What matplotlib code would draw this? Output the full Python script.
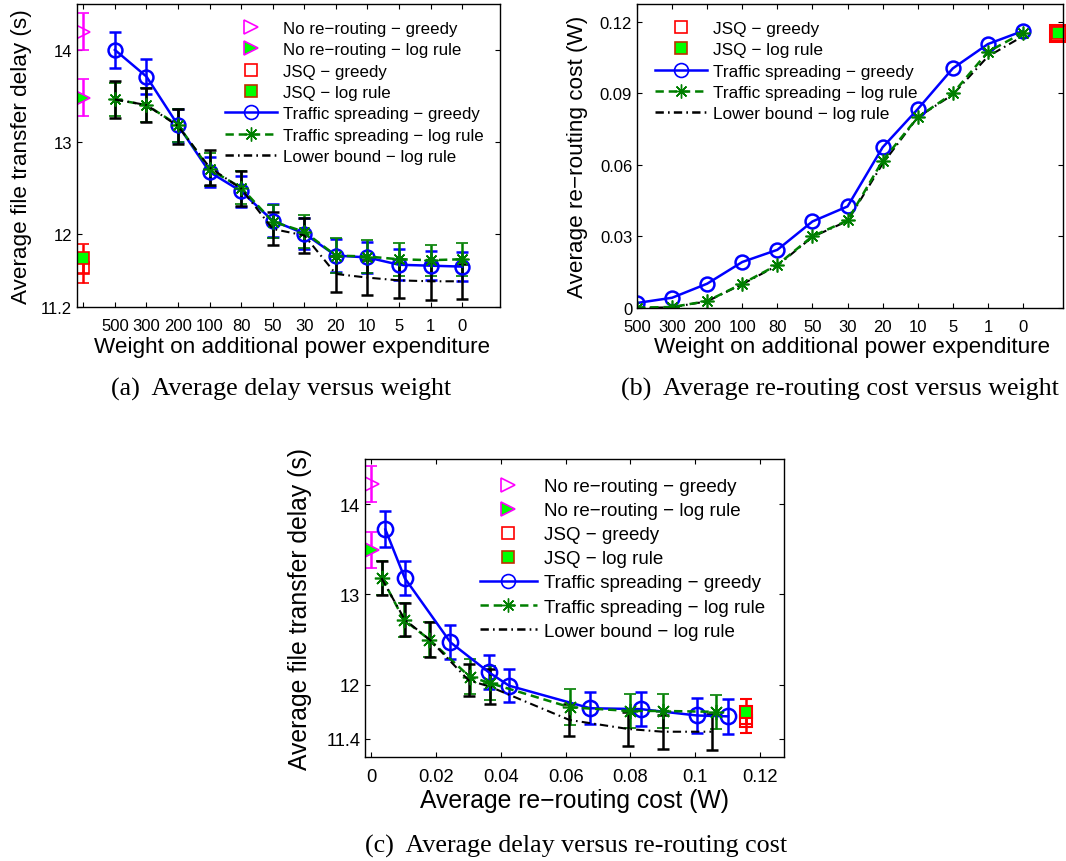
import numpy as np
import matplotlib
matplotlib.use('Agg')
import matplotlib.pyplot as plt
from matplotlib.lines import Line2D

plt.rcParams['font.family'] = ['Liberation Sans', 'DejaVu Sans']
plt.rcParams['lines.scale_dashes'] = False

W, H = 1066, 862

# ---- data ----
weights = ['500', '300', '200', '100', '80', '50', '30', '20', '10', '5', '1', '0']

# (a) delay vs weight
delay_ts_greedy = [14.0, 13.71, 13.18, 12.67, 12.46, 12.14, 12.0, 11.76, 11.74, 11.66, 11.65, 11.64]
err_ts_greedy = [0.2, 0.19, 0.18, 0.16, 0.17, 0.18, 0.17, 0.18, 0.17, 0.17, 0.16, 0.16]
delay_ts_log = [13.46, 13.40, 13.18, 12.70, 12.50, 12.13, 12.02, 11.76, 11.75, 11.72, 11.71, 11.72]
err_ts_log = [0.18, 0.18, 0.18, 0.18, 0.18, 0.18, 0.18, 0.19, 0.18, 0.18, 0.17, 0.18]
delay_lb_log = [13.46, 13.40, 13.17, 12.72, 12.49, 12.05, 11.98, 11.56, 11.52, 11.49, 11.48, 11.48]
err_lb_log = [0.2, 0.19, 0.19, 0.19, 0.19, 0.18, 0.19, 0.2, 0.19, 0.19, 0.2, 0.19]
delay_noreroute = {'greedy': (14.2, 0.2), 'log': (13.48, 0.2)}
delay_jsq = {'greedy': (11.62, 0.16), 'log': (11.73, 0.16)}

# (b) re-routing cost vs weight
cost_ts_greedy = [0.0021, 0.0043, 0.0102, 0.0193, 0.0244, 0.0363, 0.0426, 0.0674, 0.0834, 0.1005, 0.1107, 0.1162]
cost_ts_log = [0.0002, 0.0004, 0.0029, 0.0102, 0.0181, 0.0301, 0.0367, 0.0618, 0.0800, 0.0900, 0.1074, 0.1155]
cost_lb_log = [0.0, 0.0003, 0.0028, 0.0100, 0.0178, 0.0298, 0.0365, 0.0605, 0.0800, 0.0895, 0.1055, 0.1140]
cost_jsq = 0.1154

# (c) delay vs re-routing cost
c_greedy_cost = [0.0043, 0.0103, 0.0244, 0.0362, 0.0425, 0.0676, 0.0833, 0.1005, 0.1102]
c_greedy_delay = [13.72, 13.18, 12.47, 12.14, 11.99, 11.74, 11.73, 11.66, 11.65]
c_greedy_err = [0.2, 0.19, 0.19, 0.19, 0.18, 0.18, 0.19, 0.19, 0.19]
c_log_cost = [0.0033, 0.0100, 0.0179, 0.0303, 0.0365, 0.0614, 0.0799, 0.0900, 0.1066]
c_log_delay = [13.18, 12.72, 12.50, 12.09, 12.02, 11.75, 11.71, 11.71, 11.70]
c_log_err = [0.19, 0.19, 0.19, 0.19, 0.19, 0.2, 0.19, 0.19, 0.19]
c_lb_cost = [0.0031, 0.0103, 0.0180, 0.0300, 0.0365, 0.0612, 0.0794, 0.0900, 0.1051]
c_lb_delay = [13.18, 12.72, 12.50, 12.05, 11.98, 11.61, 11.51, 11.48, 11.48]
c_lb_err = [0.19, 0.18, 0.19, 0.18, 0.19, 0.18, 0.19, 0.19, 0.2]
c_noreroute = {'greedy': (14.22, 0.2), 'log': (13.49, 0.2)}
c_jsq_cost = 0.1157
c_jsq = {'greedy': (11.60, 0.13), 'log': (11.70, 0.14)}

BLUE = '#0000ff'
GREEN = '#007f00'
LGREEN = '#00ff00'
MAG = '#ff00ff'
RED = '#ff0000'
DASH = (0, (6, 3.5))
DASHDOT = (0, (6, 3, 1.2, 3))

fig = plt.figure(figsize=(W / 100, H / 100), dpi=100)


def px_axes(l, t, r, b):
    return fig.add_axes([l / W, 1 - b / H, (r - l) / W, (b - t) / H])


def eb(ax, x, y, e, color, **kw):
    return ax.errorbar(x, y, yerr=e, color=color, ecolor=color, elinewidth=1.8,
                       capsize=4, capthick=1.8, **kw)


def style(ax, fs):
    ax.tick_params(which='both', direction='in', top=True, right=True,
                   length=3.6, width=0.8, labelsize=fs)
    ax.tick_params(axis='x', pad=8)
    ax.tick_params(axis='y', pad=3.5)
    for s in ax.spines.values():
        s.set_linewidth(1.0)


def legend_handles(with_noreroute=True):
    h = []
    if with_noreroute:
        h.append(Line2D([], [], ls='none', marker='>', ms=10, mfc='none', mec=MAG, mew=1.2,
                        label='No re\u2212routing \u2212 greedy'))
        h.append(Line2D([], [], ls='none', marker='>', ms=10, mfc=LGREEN, mec=MAG, mew=1.2,
                        label='No re\u2212routing \u2212 log rule'))
    h.append(Line2D([], [], ls='none', marker='s', ms=8, mfc='none', mec=RED, mew=1.2,
                    label='JSQ \u2212 greedy'))
    h.append(Line2D([], [], ls='none', marker='s', ms=8, mfc=LGREEN, mec='#c03000', mew=1.2,
                    label='JSQ \u2212 log rule'))
    h.append(Line2D([], [], color=BLUE, lw=1.8, marker='o', ms=10, mfc='none', mew=1.2,
                    label='Traffic spreading \u2212 greedy'))
    h.append(Line2D([], [], color=GREEN, lw=1.8, ls=DASH, marker=(8, 2, 0), ms=10, mew=1.0,
                    label='Traffic spreading \u2212 log rule'))
    h.append(Line2D([], [], color='black', lw=1.8, ls=DASHDOT,
                    label='Lower bound \u2212 log rule'))
    return h


# ---------------- (a) ----------------
ax = px_axes(77, 5, 500, 308)
idx = np.arange(1, len(weights) + 1)
eb(ax, 0, delay_noreroute['greedy'][0], delay_noreroute['greedy'][1], MAG,
   ls='none', marker='>', ms=10, mfc='none', mec=MAG, mew=1.2)
eb(ax, 0, delay_noreroute['log'][0], delay_noreroute['log'][1], MAG,
   ls='none', marker='>', ms=10, mfc=LGREEN, mec=MAG, mew=1.2)
eb(ax, 0, delay_jsq['greedy'][0], delay_jsq['greedy'][1], RED,
   ls='none', marker='s', ms=8, mfc='none', mec=RED, mew=1.2)
eb(ax, 0, delay_jsq['log'][0], delay_jsq['log'][1], RED,
   ls='none', marker='s', ms=8, mfc=LGREEN, mec=RED, mew=1.2)
eb(ax, idx, delay_ts_greedy, err_ts_greedy, BLUE, lw=1.8, marker='o', ms=10,
   mfc='none', mew=1.8)
eb(ax, idx, delay_ts_log, err_ts_log, GREEN, lw=1.8, ls=DASH, marker=(8, 2, 0),
   ms=10, mew=1.2)
eb(ax, idx, delay_lb_log, err_lb_log, 'black', lw=1.5, ls=DASHDOT)
ax.set_xlim(-0.2, 13.2)
ax.set_ylim(11.2, 14.5)
ax.set_xticks(np.arange(0, 13))
ax.set_xticklabels([''] + weights)
ax.set_yticks([11.2, 12, 13, 14])
ax.set_yticklabels(['11.2', '12', '13', '14'])
style(ax, 12)
ax.set_xlabel('Weight on additional power expenditure', fontsize=16.2, va='center')
ax.xaxis.set_label_coords(0.508, -0.132)
ax.set_ylabel('Average file transfer delay (s)', fontsize=16.2, va='center')
ax.yaxis.set_label_coords(-0.132, 0.5)
ax.legend(handles=legend_handles(True), loc='upper left', bbox_to_anchor=(0.35, 0.945),
          frameon=False, fontsize=12.2, handlelength=3.05, handletextpad=0.36,
          labelspacing=0.38, borderpad=0, borderaxespad=0, numpoints=1)

# ---------------- (b) ----------------
ax = px_axes(637, 5, 1063, 309)
eb(ax, idx, cost_ts_greedy, None, BLUE, lw=1.8, marker='o', ms=10, mfc='none', mew=1.8)
eb(ax, idx, cost_ts_log, None, GREEN, lw=1.8, ls=DASH, marker=(8, 2, 0), ms=10, mew=1.2)
ax.plot(idx, cost_lb_log, color='black', lw=1.5, ls=DASHDOT)
ax.plot([len(weights) + 1], [cost_jsq], ls='none', marker='s', ms=11, mfc='none',
        mec=RED, mew=2.2, clip_on=False)
ax.plot([len(weights) + 1], [cost_jsq], ls='none', marker='s', ms=9, mfc=LGREEN,
        mec=RED, mew=1.2, clip_on=False)
ax.set_xlim(1, 13.14)
ax.set_ylim(0, 0.1275)
ax.set_xticks(idx)
ax.set_xticklabels(weights)
ax.set_yticks([0, 0.03, 0.06, 0.09, 0.12])
ax.set_yticklabels(['0', '0.03', '0.06', '0.09', '0.12'])
style(ax, 12)
ax.set_xlabel('Weight on additional power expenditure', fontsize=16.2, va='center')
ax.xaxis.set_label_coords(0.505, -0.128)
ax.set_ylabel('Average re\u2212routing cost (W)', fontsize=16.2, va='center')
ax.yaxis.set_label_coords(-0.1385, 0.5)
ax.legend(handles=legend_handles(False), loc='upper left', bbox_to_anchor=(0.042, 0.945),
          frameon=False, fontsize=12.4, handlelength=3.0, handletextpad=0.36,
          labelspacing=0.37, borderpad=0, borderaxespad=0, numpoints=1)

# ---------------- (c) ----------------
ax = px_axes(365, 460, 784, 758)
eb(ax, 0, c_noreroute['greedy'][0], c_noreroute['greedy'][1], MAG,
   ls='none', marker='>', ms=11, mfc='none', mec=MAG, mew=1.2)
eb(ax, 0, c_noreroute['log'][0], c_noreroute['log'][1], MAG,
   ls='none', marker='>', ms=11, mfc=LGREEN, mec=MAG, mew=1.2)
eb(ax, c_jsq_cost, c_jsq['greedy'][0], c_jsq['greedy'][1], RED,
   ls='none', marker='s', ms=9, mfc='none', mec=RED, mew=1.5)
eb(ax, c_jsq_cost, c_jsq['log'][0], c_jsq['log'][1], RED,
   ls='none', marker='s', ms=9, mfc=LGREEN, mec=RED, mew=1.5)
eb(ax, c_greedy_cost, c_greedy_delay, c_greedy_err, BLUE, lw=1.8, marker='o', ms=11,
   mfc='none', mew=1.8)
eb(ax, c_log_cost, c_log_delay, c_log_err, GREEN, lw=1.8, ls=DASH, marker=(8, 2, 0),
   ms=11, mew=1.2)
eb(ax, c_lb_cost, c_lb_delay, c_lb_err, 'black', lw=1.5, ls=DASHDOT)
ax.set_xlim(-0.002, 0.1275)
ax.set_ylim(11.2, 14.5)
ax.set_xticks([0, 0.02, 0.04, 0.06, 0.08, 0.1, 0.12])
ax.set_xticklabels(['0', '0.02', '0.04', '0.06', '0.08', '0.1', '0.12'])
ax.set_yticks([11.4, 12, 13, 14])
ax.set_yticklabels(['11.4', '12', '13', '14'])
style(ax, 13.2)
ax.set_xlabel('Average re\u2212routing cost (W)', fontsize=17.8, va='center')
ax.xaxis.set_label_coords(0.501, -0.144)
ax.set_ylabel('Average file transfer delay (s)', fontsize=17.8, va='center')
ax.yaxis.set_label_coords(-0.155, 0.5)
ax.legend(handles=legend_handles(True), loc='upper left', bbox_to_anchor=(0.274, 0.936),
          frameon=False, fontsize=13.5, handlelength=3.05, handletextpad=0.36,
          labelspacing=0.37, borderpad=0, borderaxespad=0, numpoints=1)

# captions
cap = dict(family=['Liberation Serif', 'DejaVu Serif'], fontsize=18.7, ha='center', va='center')
fig.text(281 / W, 1 - 389 / H, '(a)  Average delay versus weight', **cap)
fig.text(840 / W, 1 - 389 / H, '(b)  Average re-routing cost versus weight', **cap)
fig.text(576 / W, 1 - 846 / H, '(c)  Average delay versus re-routing cost', **cap)

fig.savefig('out.png', dpi=100)
